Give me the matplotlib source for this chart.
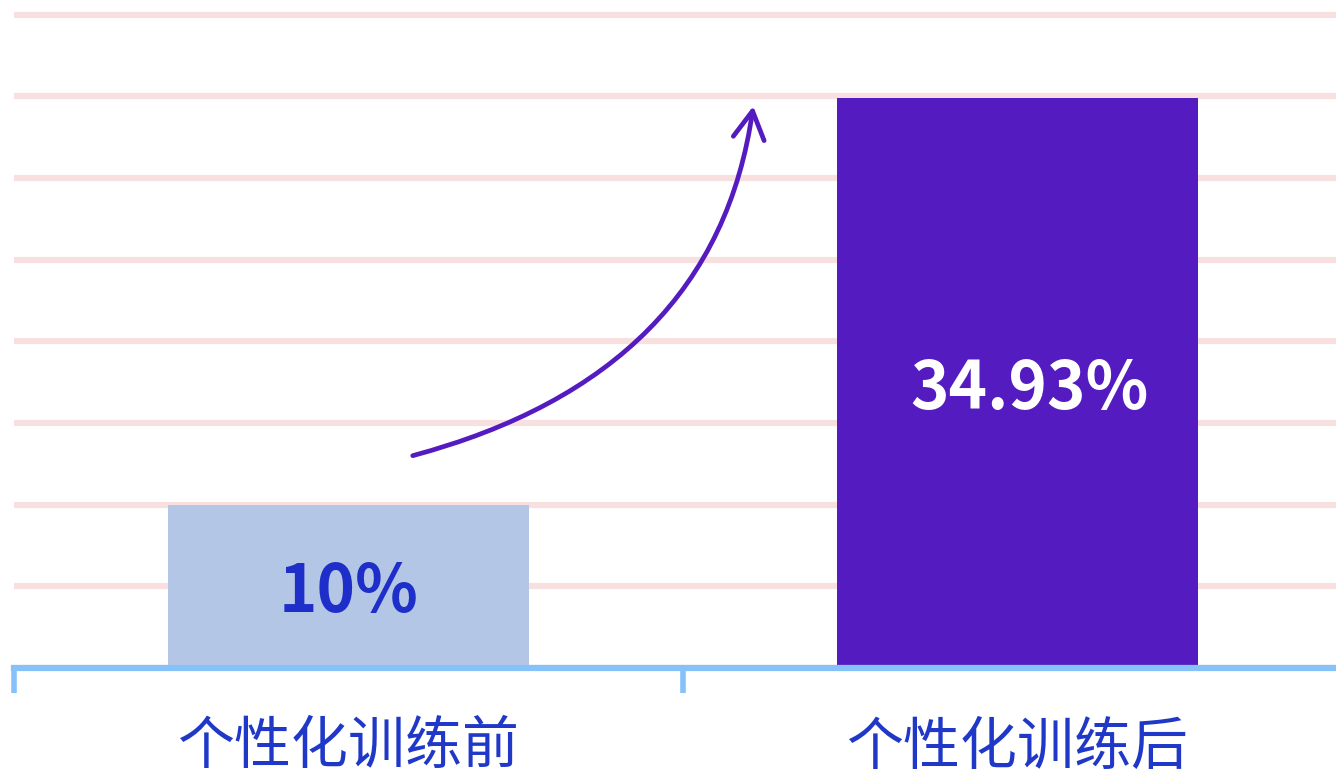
import matplotlib.pyplot as plt

plt.rcParams['font.family'] = ['Noto Sans CJK SC', 'DejaVu Sans']

categories = ['个性化训练前', '个性化训练后']
values = [10, 34.93]
value_labels = ['10%', '34.93%']
bar_colors = ['#B4C6E6', '#541CC0']
text_colors = ['#1E2EC8', '#FFFFFF']

fig = plt.figure(figsize=(13.36, 7.72), dpi=100)
ax = fig.add_axes([14 / 1336, 104 / 772, 1338 / 1336, 668 / 772])

x = list(range(len(categories)))
ax.bar(x, values, width=0.54, color=bar_colors, zorder=2)

for i, v in enumerate(values):
    ax.text(i + (0.018 if i else 0), v / 2 - 1.6, value_labels[i], ha='center', va='baseline',
            fontsize=47, fontweight='bold', color=text_colors[i], zorder=3)

# rising arrow from the first bar towards the second
ax.annotate('', xy=(0.605, 34.4), xytext=(0.096, 13.0),
            arrowprops=dict(arrowstyle='->,head_length=0.5,head_width=0.28',
                            connectionstyle='angle3,angleA=15,angleB=82', color='#541CC0',
                            lw=3.4, mutation_scale=40, shrinkA=0, shrinkB=0),
            zorder=3)

ax.set_xlim(-0.5, 1.5)
ax.set_ylim(0, 40.9)
ax.set_yticks(range(0, 41, 5))
ax.yaxis.grid(True, color='#F8E0E0', lw=4.5, zorder=0)
ax.set_axisbelow(True)
ax.tick_params(axis='y', left=False, labelleft=False)

ax.set_xticks(x)
ax.set_xticklabels(categories, fontsize=41, color='#2038C8')
ax.tick_params(axis='x', which='major', length=0, pad=36)
ax.set_xticks([-0.5, 0.5, 1.5], minor=True)
ax.tick_params(axis='x', which='minor', length=18, width=4, color='#86C1FA')

for s in ['top', 'right', 'left']:
    ax.spines[s].set_visible(False)
ax.spines['bottom'].set_color('#86C1FA')
ax.spines['bottom'].set_linewidth(4.5)

fig.savefig('out.png', dpi=100)
